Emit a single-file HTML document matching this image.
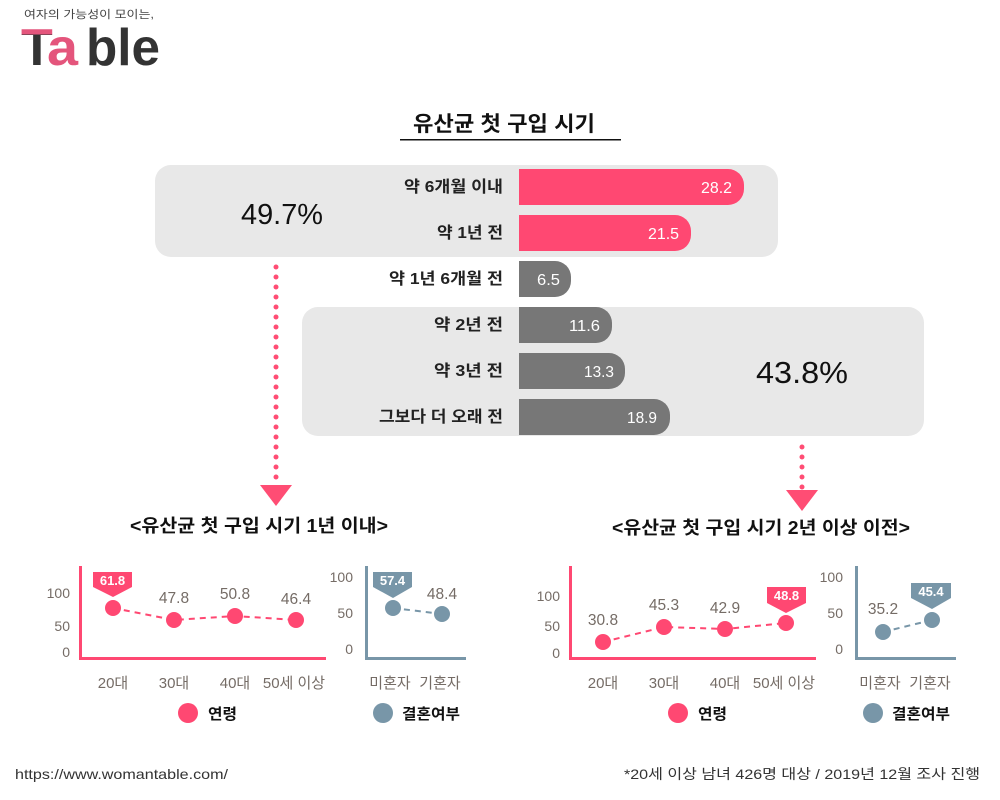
<!DOCTYPE html>
<html>
<head>
<meta charset="utf-8">
<style>
html,body{margin:0;padding:0;background:#fff;}
svg{display:block;}
text{font-family:"Liberation Sans","Noto Sans CJK KR",sans-serif;}
.tick{font-size:14px;fill:#756c66;}
.val{font-size:15.5px;fill:#756c66;}
.xl{font-size:15px;fill:#756c66;}
.cl{font-size:13px;fill:#fff;font-weight:bold;}
.lg{font-size:15px;fill:#111;font-weight:bold;}
.bl{font-size:16px;fill:#222;font-weight:600;}
.bv{font-size:16px;fill:#fff;}
</style>
</head>
<body>
<svg width="1000" height="800" viewBox="0 0 1000 800" xmlns="http://www.w3.org/2000/svg">
<defs>
<linearGradient id="tg" gradientUnits="userSpaceOnUse" x1="0" y1="20" x2="0" y2="70">
<stop offset="0" stop-color="#e4557c"/>
<stop offset="0.29" stop-color="#e4557c"/>
<stop offset="0.29" stop-color="#333333"/>
<stop offset="1" stop-color="#333333"/>
</linearGradient>
</defs>

<!-- Logo -->
<text x="24" y="18" font-size="11" fill="#444" textLength="130" lengthAdjust="spacingAndGlyphs">여자의 가능성이 모이는,</text>
<text x="21" y="65" font-size="52" font-weight="bold" fill="url(#tg)">T</text>
<text x="47" y="65" font-size="52" font-weight="bold" fill="#e4557c" textLength="31" lengthAdjust="spacingAndGlyphs">a</text>
<text x="86" y="65" font-size="52" font-weight="bold" fill="#333" textLength="74" lengthAdjust="spacingAndGlyphs">ble</text>

<!-- Title -->
<text x="413" y="131" font-size="21" font-weight="bold" fill="#111" textLength="182" lengthAdjust="spacingAndGlyphs">유산균 첫 구입 시기</text>
<rect x="400" y="139" width="221" height="1.5" fill="#111"/>

<!-- grey boxes -->
<rect x="155" y="165" width="623" height="92" rx="16" ry="16" fill="#e8e8e8"/>
<rect x="302" y="307" width="622" height="129" rx="16" ry="16" fill="#e8e8e8"/>

<text x="241" y="224" font-size="29" fill="#111" textLength="82" lengthAdjust="spacingAndGlyphs">49.7%</text>
<text x="756" y="383" font-size="31" fill="#111" textLength="92" lengthAdjust="spacingAndGlyphs">43.8%</text>

<!-- bars -->
<path d="M519,169 H728 A16,16 0 0 1 744,185 V189 A16,16 0 0 1 728,205 H519 Z" fill="#ff4872"/>
<path d="M519,215 H675 A16,16 0 0 1 691,231 V235 A16,16 0 0 1 675,251 H519 Z" fill="#ff4872"/>
<path d="M519,261 H555 A16,16 0 0 1 571,277 V281 A16,16 0 0 1 555,297 H519 Z" fill="#777777"/>
<path d="M519,307 H596 A16,16 0 0 1 612,323 V327 A16,16 0 0 1 596,343 H519 Z" fill="#777777"/>
<path d="M519,353 H609 A16,16 0 0 1 625,369 V373 A16,16 0 0 1 609,389 H519 Z" fill="#777777"/>
<path d="M519,399 H654 A16,16 0 0 1 670,415 V419 A16,16 0 0 1 654,435 H519 Z" fill="#777777"/>

<text class="bv" x="701" y="193" textLength="31" lengthAdjust="spacingAndGlyphs">28.2</text>
<text class="bv" x="648" y="239" textLength="31" lengthAdjust="spacingAndGlyphs">21.5</text>
<text class="bv" x="537" y="285" textLength="23" lengthAdjust="spacingAndGlyphs">6.5</text>
<text class="bv" x="569" y="331" textLength="31" lengthAdjust="spacingAndGlyphs">11.6</text>
<text class="bv" x="584" y="377" textLength="30" lengthAdjust="spacingAndGlyphs">13.3</text>
<text class="bv" x="627" y="423" textLength="30" lengthAdjust="spacingAndGlyphs">18.9</text>

<text class="bl" x="404" y="192" textLength="99" lengthAdjust="spacingAndGlyphs">약 6개월 이내</text>
<text class="bl" x="437" y="238" textLength="66" lengthAdjust="spacingAndGlyphs">약 1년 전</text>
<text class="bl" x="389" y="284" textLength="114" lengthAdjust="spacingAndGlyphs">약 1년 6개월 전</text>
<text class="bl" x="434" y="330" textLength="69" lengthAdjust="spacingAndGlyphs">약 2년 전</text>
<text class="bl" x="434" y="376" textLength="69" lengthAdjust="spacingAndGlyphs">약 3년 전</text>
<text class="bl" x="379" y="422" textLength="124" lengthAdjust="spacingAndGlyphs">그보다 더 오래 전</text>

<!-- dotted arrows -->
<g fill="#ff4d74">
<circle cx="276" cy="267" r="2.5"/><circle cx="276" cy="277" r="2.5"/><circle cx="276" cy="287" r="2.5"/><circle cx="276" cy="297" r="2.5"/><circle cx="276" cy="307" r="2.5"/><circle cx="276" cy="317" r="2.5"/><circle cx="276" cy="327" r="2.5"/><circle cx="276" cy="337" r="2.5"/><circle cx="276" cy="347" r="2.5"/><circle cx="276" cy="357" r="2.5"/><circle cx="276" cy="367" r="2.5"/><circle cx="276" cy="377" r="2.5"/><circle cx="276" cy="387" r="2.5"/><circle cx="276" cy="397" r="2.5"/><circle cx="276" cy="407" r="2.5"/><circle cx="276" cy="417" r="2.5"/><circle cx="276" cy="427" r="2.5"/><circle cx="276" cy="437" r="2.5"/><circle cx="276" cy="447" r="2.5"/><circle cx="276" cy="457" r="2.5"/><circle cx="276" cy="467" r="2.5"/><circle cx="276" cy="477" r="2.5"/>
<polygon points="260,485 292,485 276,506"/>
<circle cx="802" cy="447" r="2.5"/><circle cx="802" cy="457" r="2.5"/><circle cx="802" cy="467" r="2.5"/><circle cx="802" cy="477" r="2.5"/><circle cx="802" cy="487" r="2.5"/>
<polygon points="786,490 818,490 802,511"/>
</g>

<!-- subtitles -->
<text x="130" y="532" font-size="18" font-weight="bold" fill="#111" textLength="258" lengthAdjust="spacingAndGlyphs">&lt;유산균 첫 구입 시기 1년 이내&gt;</text>
<text x="612" y="534" font-size="18" font-weight="bold" fill="#111" textLength="298" lengthAdjust="spacingAndGlyphs">&lt;유산균 첫 구입 시기 2년 이상 이전&gt;</text>

<!-- LEFT age chart -->
<rect x="79" y="566" width="3" height="94" fill="#ff4872"/>
<rect x="79" y="657" width="247" height="3" fill="#ff4872"/>
<text class="tick" x="70" y="598" text-anchor="end">100</text>
<text class="tick" x="70" y="631" text-anchor="end">50</text>
<text class="tick" x="70" y="657" text-anchor="end">0</text>
<polyline points="113,608 174,620 235,616 296,620" fill="none" stroke="#ff4872" stroke-width="2" stroke-dasharray="6,5"/>
<g fill="#ff4872">
<circle cx="113" cy="608" r="8"/><circle cx="174" cy="620" r="8"/><circle cx="235" cy="616" r="8"/><circle cx="296" cy="620" r="8"/>
</g>
<path d="M93,572 H132 V587 L113,597 L93,587 Z" fill="#ff4872"/>
<text class="cl" x="112.5" y="585" text-anchor="middle">61.8</text>
<text class="val" x="174" y="603" text-anchor="middle">47.8</text>
<text class="val" x="235" y="599" text-anchor="middle">50.8</text>
<text class="val" x="296" y="604" text-anchor="middle">46.4</text>
<text class="xl" x="113" y="688" text-anchor="middle">20대</text>
<text class="xl" x="174" y="688" text-anchor="middle">30대</text>
<text class="xl" x="235" y="688" text-anchor="middle">40대</text>
<text class="xl" x="294" y="688" text-anchor="middle">50세 이상</text>
<circle cx="188" cy="713" r="10" fill="#ff4872"/>
<text class="lg" x="208" y="719" textLength="29" lengthAdjust="spacingAndGlyphs">연령</text>

<!-- LEFT marriage chart -->
<rect x="365" y="566" width="3" height="94" fill="#7896a8"/>
<rect x="365" y="657" width="101" height="3" fill="#7896a8"/>
<text class="tick" x="353" y="582" text-anchor="end">100</text>
<text class="tick" x="353" y="618" text-anchor="end">50</text>
<text class="tick" x="353" y="654" text-anchor="end">0</text>
<line x1="393" y1="608" x2="442" y2="614" stroke="#7896a8" stroke-width="2" stroke-dasharray="6,5"/>
<circle cx="393" cy="608" r="8" fill="#7896a8"/>
<circle cx="442" cy="614" r="8" fill="#7896a8"/>
<path d="M373,572 H412 V587 L393,598 L373,587 Z" fill="#7896a8"/>
<text class="cl" x="392.5" y="585" text-anchor="middle">57.4</text>
<text class="val" x="442" y="599" text-anchor="middle">48.4</text>
<text class="xl" x="390" y="688" text-anchor="middle">미혼자</text>
<text class="xl" x="440" y="688" text-anchor="middle">기혼자</text>
<circle cx="383" cy="713" r="10" fill="#7896a8"/>
<text class="lg" x="402" y="719" textLength="58" lengthAdjust="spacingAndGlyphs">결혼여부</text>

<!-- RIGHT age chart -->
<rect x="569" y="566" width="3" height="94" fill="#ff4872"/>
<rect x="569" y="657" width="247" height="3" fill="#ff4872"/>
<text class="tick" x="560" y="601" text-anchor="end">100</text>
<text class="tick" x="560" y="631" text-anchor="end">50</text>
<text class="tick" x="560" y="658" text-anchor="end">0</text>
<polyline points="603,642 664,627 725,629 786,623" fill="none" stroke="#ff4872" stroke-width="2" stroke-dasharray="6,5"/>
<g fill="#ff4872">
<circle cx="603" cy="642" r="8"/><circle cx="664" cy="627" r="8"/><circle cx="725" cy="629" r="8"/><circle cx="786" cy="623" r="8"/>
</g>
<path d="M767,587 H806 V603 L786,613 L767,603 Z" fill="#ff4872"/>
<text class="cl" x="786.5" y="600" text-anchor="middle">48.8</text>
<text class="val" x="603" y="625" text-anchor="middle">30.8</text>
<text class="val" x="664" y="610" text-anchor="middle">45.3</text>
<text class="val" x="725" y="613" text-anchor="middle">42.9</text>
<text class="xl" x="603" y="688" text-anchor="middle">20대</text>
<text class="xl" x="664" y="688" text-anchor="middle">30대</text>
<text class="xl" x="725" y="688" text-anchor="middle">40대</text>
<text class="xl" x="784" y="688" text-anchor="middle">50세 이상</text>
<circle cx="678" cy="713" r="10" fill="#ff4872"/>
<text class="lg" x="698" y="719" textLength="29" lengthAdjust="spacingAndGlyphs">연령</text>

<!-- RIGHT marriage chart -->
<rect x="855" y="566" width="3" height="94" fill="#7896a8"/>
<rect x="855" y="657" width="101" height="3" fill="#7896a8"/>
<text class="tick" x="843" y="582" text-anchor="end">100</text>
<text class="tick" x="843" y="618" text-anchor="end">50</text>
<text class="tick" x="843" y="654" text-anchor="end">0</text>
<line x1="883" y1="632" x2="932" y2="620" stroke="#7896a8" stroke-width="2" stroke-dasharray="6,5"/>
<circle cx="883" cy="632" r="8" fill="#7896a8"/>
<circle cx="932" cy="620" r="8" fill="#7896a8"/>
<path d="M911,583 H951 V598 L932,609 L911,598 Z" fill="#7896a8"/>
<text class="cl" x="931" y="596" text-anchor="middle">45.4</text>
<text class="val" x="883" y="614" text-anchor="middle">35.2</text>
<text class="xl" x="880" y="688" text-anchor="middle">미혼자</text>
<text class="xl" x="930" y="688" text-anchor="middle">기혼자</text>
<circle cx="873" cy="713" r="10" fill="#7896a8"/>
<text class="lg" x="892" y="719" textLength="58" lengthAdjust="spacingAndGlyphs">결혼여부</text>

<!-- footer -->
<text x="15" y="779" font-size="14" fill="#333" textLength="213" lengthAdjust="spacingAndGlyphs">https://www.womantable.com/</text>
<text x="624" y="779" font-size="14" fill="#333" textLength="356" lengthAdjust="spacingAndGlyphs">*20세 이상 남녀 426명 대상 / 2019년 12월 조사 진행</text>
</svg>
</body>
</html>
